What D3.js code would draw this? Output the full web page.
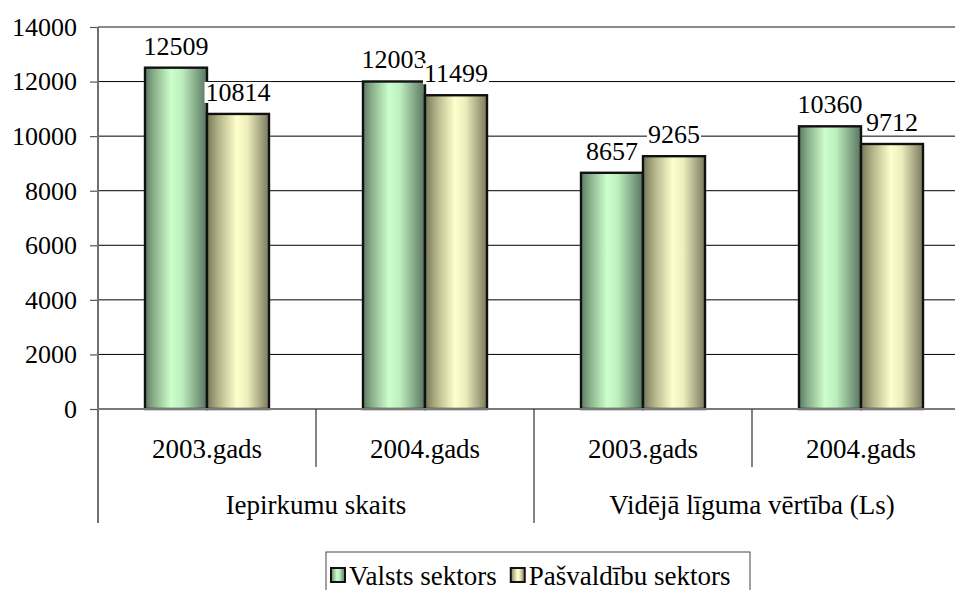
<!DOCTYPE html>
<html>
<head>
<meta charset="utf-8">
<script src="https://cdn.jsdelivr.net/npm/d3@7"></script>
<style>
  html, body { margin: 0; padding: 0; background: #fff; }
  svg { display: block; }
</style>
</head>
<body>
<svg id="chart" width="955" height="590"></svg>
<script>
// ---- data ----
const years = ["2003.gads", "2004.gads", "2003.gads", "2004.gads"];
const groups = ["Iepirkumu skaits", "Vidējā līguma vērtība (Ls)"];
const series = ["Valsts sektors", "Pašvaldību sektors"];
const valsts = [12509, 12003, 8657, 10360];
const pasvaldibu = [10814, 11499, 9265, 9712];
const yTicks = [0, 2000, 4000, 6000, 8000, 10000, 12000, 14000];

(function () {
// ---- layout ----
const svg = d3.select("#chart");
const FONT = '"Liberation Serif", "Times New Roman", serif';
const plotLeft = 98, plotTop = 27, plotBottom = 409, groupStep = 218;
const catKeys = years.map((d, i) => i);
const seriesValues = [valsts, pasvaldibu];
const numSize = 26, textSize = 27;

const y = d3.scaleLinear().domain([0, 14000]).range([plotBottom, plotTop]);
const x0 = d3.scaleBand().domain(catKeys).range([plotLeft, plotLeft + groupStep * catKeys.length]).padding(0);
const x1 = d3.scaleBand().domain(series).range([0, x0.bandwidth()]).paddingInner(0).paddingOuter(0.758);

// gradients
const defs = svg.append("defs");
function grad(id, stops) {
  const g = defs.append("linearGradient").attr("id", id).attr("x1", "0%").attr("x2", "100%").attr("y1", "0%").attr("y2", "0%");
  stops.forEach(s => g.append("stop").attr("offset", s[0]).attr("stop-color", s[1]));
}
grad("gGreen", [["0%", "#5d7b64"], ["15%", "#8cb18c"], ["42%", "#ccffcc"], ["60%", "#bdedbd"], ["100%", "#587560"]]);
grad("gYellow", [["0%", "#76765a"], ["18%", "#b2b288"], ["48%", "#ffffcc"], ["65%", "#eeeebd"], ["100%", "#7a7a5e"]]);
const fills = ["url(#gGreen)", "url(#gYellow)"];

// gridlines
svg.append("g").selectAll("line").data(yTicks.filter(t => t > 0 && t < 14000)).join("line")
  .attr("x1", plotLeft).attr("x2", 955).attr("y1", d => y(d)).attr("y2", d => y(d))
  .attr("stroke", "#000").attr("stroke-width", 1);
// top border
svg.append("line").attr("x1", plotLeft).attr("x2", 955).attr("y1", y(14000)).attr("y2", y(14000))
  .attr("stroke", "#8a8a8a").attr("stroke-width", 2);

// y axis
const yAxis = d3.axisLeft(y).tickValues(yTicks).tickSize(8).tickPadding(13).tickFormat(d3.format("d"));
const gy = svg.append("g").attr("transform", `translate(${plotLeft},0)`).call(yAxis)
  .attr("font-family", FONT).attr("font-size", numSize);
gy.select(".domain").remove();
gy.selectAll(".tick line").attr("stroke", "#555").attr("stroke-width", 1.2);
gy.selectAll(".tick text").attr("fill", "#000");

// bars
const barG = svg.append("g");
catKeys.forEach(ci => {
  series.forEach((s, si) => {
    const v = seriesValues[si][ci];
    barG.append("rect")
      .attr("x", x0(ci) + x1(s))
      .attr("y", y(v))
      .attr("width", x1.bandwidth())
      .attr("height", y(0) - y(v))
      .attr("fill", fills[si])
      .attr("stroke", "#111").attr("stroke-width", 2.4);
  });
});

// left axis line and zero line
svg.append("line").attr("x1", plotLeft).attr("x2", plotLeft).attr("y1", plotTop).attr("y2", 523)
  .attr("stroke", "#6f6f6f").attr("stroke-width", 2);
svg.append("line").attr("x1", plotLeft).attr("x2", 955).attr("y1", y(0)).attr("y2", y(0))
  .attr("stroke", "#7a7a7a").attr("stroke-width", 2);

// value labels
const labG = svg.append("g");
catKeys.forEach(ci => {
  series.forEach((s, si) => {
    const v = seriesValues[si][ci];
    const cx = x0(ci) + x1(s) + x1.bandwidth() / 2;
    const t = labG.append("text").attr("x", cx).attr("y", y(v) - 13)
      .attr("text-anchor", "middle").attr("font-family", FONT).attr("font-size", numSize).attr("fill", "#000").text(v);
    const bb = t.node().getBBox();
    labG.insert("rect", () => t.node())
      .attr("x", bb.x - 1).attr("y", bb.y + 4).attr("width", bb.width + 2).attr("height", bb.height - 8)
      .attr("fill", "#fff");
  });
});

// category axis: year labels and separators
const catG = svg.append("g");
catKeys.forEach(ci => {
  catG.append("text").attr("x", x0(ci) + x0.bandwidth() / 2).attr("y", 458)
    .attr("text-anchor", "middle").attr("font-family", FONT).attr("font-size", textSize).attr("fill", "#000").text(years[ci]);
});
groups.forEach((g, gi) => {
  const xm = x0(gi * 2 + 1);
  catG.append("line").attr("x1", xm).attr("x2", xm).attr("y1", plotBottom).attr("y2", 467)
    .attr("stroke", "#333").attr("stroke-width", 1.2);
  const xs = x0(gi * 2);
  const xe = x0(gi * 2 + 1) + x0.bandwidth();
  catG.append("text").attr("x", (xs + xe) / 2).attr("y", 514)
    .attr("text-anchor", "middle").attr("font-family", FONT).attr("font-size", textSize).attr("fill", "#000").text(g);
  catG.append("line").attr("x1", xe).attr("x2", xe).attr("y1", plotBottom).attr("y2", 523)
    .attr("stroke", "#333").attr("stroke-width", 1.2);
});

// legend
const lg = svg.append("g");
lg.append("rect").attr("x", 326).attr("y", 552).attr("width", 424).attr("height", 44)
  .attr("fill", "#fff").attr("stroke", "#444").attr("stroke-width", 1);
let lx = 331;
series.forEach((s, si) => {
  lg.append("rect").attr("x", lx).attr("y", 568).attr("width", 14).attr("height", 14)
    .attr("fill", fills[si]).attr("stroke", "#111").attr("stroke-width", 2);
  const t = lg.append("text").attr("x", lx + 18).attr("y", 585)
    .attr("font-family", FONT).attr("font-size", textSize).attr("fill", "#000").text(s);
  lx = lx + 18 + t.node().getComputedTextLength() + 14;
});
})();
</script>
</body>
</html>
